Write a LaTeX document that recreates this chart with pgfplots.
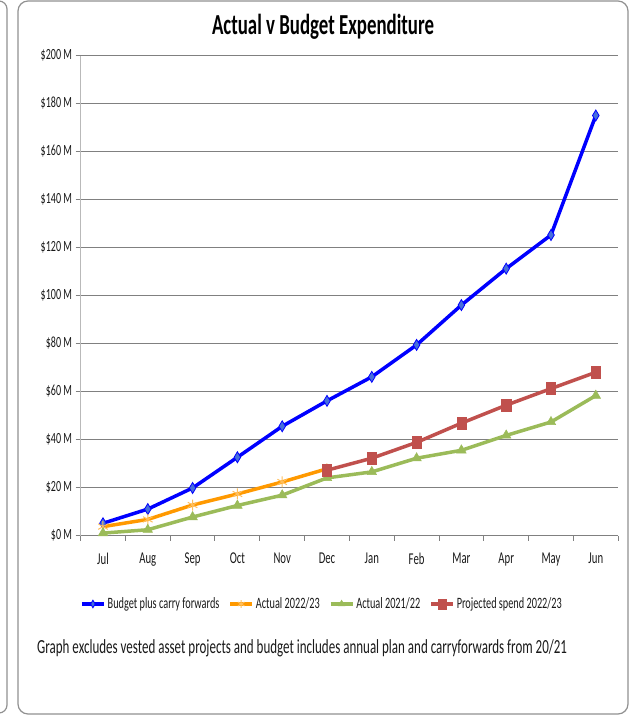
\documentclass[border=0pt]{standalone}
\usepackage{fontspec}
\setmainfont{Carlito}[FakeStretch=0.65]
\usepackage{pgfplots}
\pgfplotsset{compat=1.18}
\definecolor{bblue}{RGB}{0,0,255}
\definecolor{bfill}{RGB}{70,110,220}
\definecolor{aorange}{RGB}{255,153,0}
\definecolor{aorangem}{RGB}{255,190,90}
\definecolor{agreen}{RGB}{155,187,89}
\definecolor{pred}{RGB}{192,80,77}
\definecolor{gridgray}{RGB}{128,128,128}
\definecolor{axgray}{RGB}{185,185,185}
\definecolor{boxgray}{RGB}{145,145,145}
\definecolor{txt}{RGB}{25,25,25}
\pgfplotsset{
  myleg/.style={legend image code/.code={\draw[mark size=3.8pt,mark repeat=2,mark phase=2] plot coordinates {(0pt,0pt) (11pt,0pt) (22pt,0pt)};}}
}
\begin{document}
\begin{tikzpicture}
\begin{axis}[
  at={(0pt,0pt)}, anchor=south west,
  scale only axis, width=537.6pt, height=480pt,
  xmin=-0.5, xmax=11.5, ymin=0, ymax=200,
  xtick={-0.5,0.5,...,11.5},
  xticklabels={Jul,Aug,Sep,Oct,Nov,Dec,Jan,Feb,Mar,Apr,May,Jun},
  x tick label as interval,
  ytick={0,20,...,200},
  yticklabels={\$0 M,\$20 M,\$40 M,\$60 M,\$80 M,\$100 M,\$120 M,\$140 M,\$160 M,\$180 M,\$200 M},
  axis x line*=bottom, axis y line*=left,
  x axis line style={-, draw=gridgray, line width=1pt},
  y axis line style={-, draw=axgray, line width=1pt},
  ymajorgrids, major grid style={gridgray, line width=1pt},
  tick align=outside, major tick length=5pt,
  tick style={gridgray, line width=1pt},
  yticklabel style={font=\fontsize{15.5}{16}\selectfont, text=txt},
  xticklabel style={font=\fontsize{16.5}{17}\selectfont, text=txt, yshift=-9pt},
  legend style={at={(0.449,-0.1427)}, anchor=center, draw=none, fill=none,
    font=\fontsize{15.8}{16}\selectfont, text=txt,
    /tikz/every even column/.append style={column sep=7pt}},
  legend columns=4,
  legend cell align=left,
  clip=false,
]
\addplot[bblue, line width=3.5pt, mark=diamond*, mark size=5.5pt, myleg,
  mark options={solid, fill=bfill, draw=bblue, line width=0.8pt, xscale=0.8}]
  coordinates {(0,5.1) (1,11) (2,19.8) (3,32.6) (4,45.5) (5,56.1) (6,66.1) (7,79.4) (8,96) (9,111.2) (10,125.2) (11,175)};
\addlegendentry{Budget plus carry forwards}
\addplot[aorange, line width=3.5pt, mark=asterisk, mark size=5.5pt, myleg,
  mark options={solid, draw=aorangem, line width=1pt}]
  coordinates {(0,3.7) (1,6.7) (2,12.7) (3,17.3) (4,22.3) (5,27.8)};
\addlegendentry{Actual 2022/23}
\addplot[agreen, line width=3.5pt, mark=triangle*, mark size=5.5pt, myleg,
  mark options={solid, fill=agreen, draw=agreen, line width=0.5pt}]
  coordinates {(0,1) (1,2.4) (2,7.7) (3,12.5) (4,16.8) (5,24) (6,26.5) (7,32.2) (8,35.5) (9,41.7) (10,47.3) (11,58.3)};
\addlegendentry{Actual 2021/22}
\addplot[pred, line width=3.5pt, mark=square*, mark size=4.6pt, myleg,
  mark options={solid, fill=pred, draw=pred, line width=0.5pt, yscale=1.3}]
  coordinates {(5,27.2) (6,32.2) (7,38.8) (8,46.8) (9,54.3) (10,61.2) (11,68)};
\addlegendentry{Projected spend 2022/23}
\end{axis}
\node[font=\fontsize{29}{31}\selectfont\bfseries, text=black] at (242.4pt,508.5pt) {Actual v Budget Expenditure};
\node[font=\fontsize{20}{21}\selectfont, text=txt, anchor=west, inner sep=0pt] at (-43.6pt,-112.5pt) {Graph excludes vested asset projects and budget includes annual plan and carryforwards from 20/21};
\draw[boxgray, line width=1.2pt, rounded corners=10pt] (-62.6pt,534.5pt) rectangle (547.4pt,-178.5pt);
\draw[boxgray, line width=1.2pt, rounded corners=8pt] (-95pt,534.5pt) -- (-73.6pt,534.5pt) -- (-73.6pt,-177.5pt) -- (-95pt,-177.5pt);
\pgfresetboundingbox
\path (-80.6pt,-180.5pt) rectangle (561.4pt,535.5pt);
\end{tikzpicture}
\end{document}
